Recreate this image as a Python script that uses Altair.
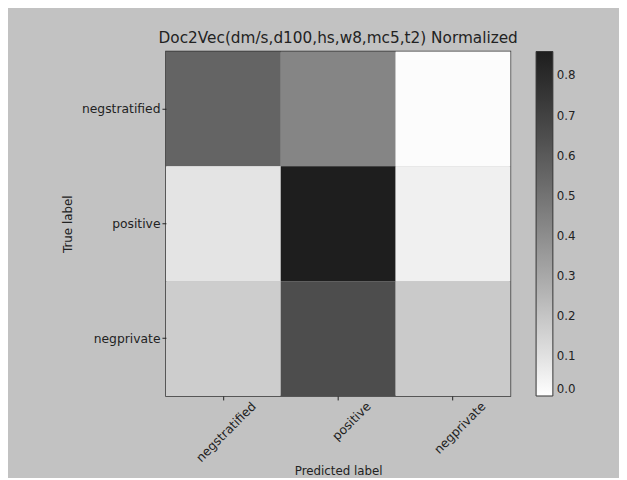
import altair as alt
import pandas as pd

true_labels = ["negstratified", "positive", "negprivate"]
pred_labels = ["negstratified", "positive", "negprivate"]
values = [
    [0.56, 0.43, 0.01],
    [0.09, 0.86, 0.05],
    [0.17, 0.65, 0.18],
]
legend_ticks = [0.0, 0.1, 0.2, 0.3, 0.4, 0.5, 0.6, 0.7, 0.8]

rows = []
for i, t in enumerate(true_labels):
    for j, p in enumerate(pred_labels):
        rows.append({"True label": t, "Predicted label": p, "value": values[i][j]})
df = pd.DataFrame(rows)

FONT = "DejaVu Sans"
TXT = "#222222"

chart = alt.Chart(df).mark_rect().encode(
    x=alt.X("Predicted label:N", sort=pred_labels,
            scale=alt.Scale(paddingInner=0, paddingOuter=0),
            axis=alt.Axis(labelAngle=-45, labelAlign="right", labelBaseline="middle",
                          labelFontSize=12.5, labelColor=TXT, labelFont=FONT,
                          tickSize=4, tickColor=TXT, domain=False, labelPadding=4,
                          labelOffset=31,
                          titleFontSize=12, titleFont=FONT, titleColor=TXT,
                          titleFontWeight="normal", titleX=174.5, titleY=76,
                          titleBaseline="middle")),
    y=alt.Y("True label:N", sort=true_labels,
            scale=alt.Scale(paddingInner=0, paddingOuter=0),
            axis=alt.Axis(labelFontSize=12.5, labelColor=TXT, labelFont=FONT,
                          tickSize=4, tickColor=TXT, domain=False, labelPadding=2,
                          titleFontSize=12, titleFont=FONT, titleColor=TXT,
                          titleFontWeight="normal", titleX=-100, titleY=174.5,
                          titleBaseline="middle")),
    color=alt.Color("value:Q",
                    scale=alt.Scale(domain=[0, 0.86], range=["#ffffff", "#1e1e1e"], nice=False),
                    legend=alt.Legend(orient="none", legendX=375, legendY=0,
                                      direction="vertical", title=None,
                                      gradientLength=349, gradientThickness=17,
                                      gradientStrokeColor="#333333", gradientStrokeWidth=1,
                                      values=legend_ticks, format=".1f",
                                      labelFontSize=12, labelColor=TXT, labelFont=FONT,
                                      labelOffset=4)),
).properties(
    width=349, height=349,
    title=alt.Title("Doc2Vec(dm/s,d100,hs,w8,mc5,t2) Normalized", fontSize=15.5,
                    font=FONT, color=TXT, fontWeight="normal", offset=5),
    autosize=alt.AutoSizeParams(type="none"),
    padding={"left": 160, "top": 41, "right": 110, "bottom": 80},
    background="#c2c2c2",
).configure_view(stroke="#333333", strokeWidth=1.5)

chart.save("out.html", embed_options={"renderer": "svg", "actions": False})
